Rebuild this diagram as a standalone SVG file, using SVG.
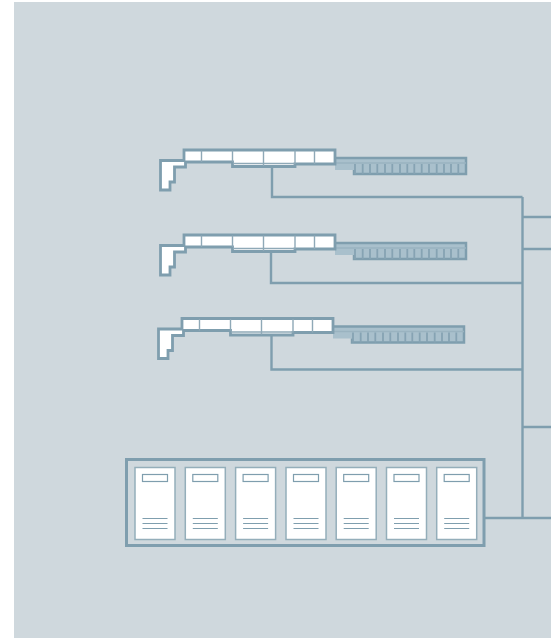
<svg xmlns="http://www.w3.org/2000/svg" width="551" height="638" viewBox="0 0 551 638">
<style>
.ln{fill:none;stroke:#7f9eae;stroke-width:2.400}
.w{fill:#fff;stroke:#7f9eae;stroke-width:2.800;stroke-linejoin:miter}
.t{fill:none;stroke:#8fa9b7;stroke-width:1.400}
.gt{fill:none;stroke:#7f9eae;stroke-width:1.500}
.sv{fill:#fff;stroke:#94aeba;stroke-width:1.500}
.sl{fill:none;stroke:#7f9eae;stroke-width:1.200}
</style>
<defs>
<g id="unit">
<path fill="#a9c0cc" d="M335 158H466V174H354V170H335Z"/>
<path class="gt" style="stroke-width:2.500" d="M335 158H466V174H354V170"/>
<path class="gt" style="stroke:#9ab3c0" d="M335 163H466"/>
<path class="gt" style="stroke:#86a3b3;stroke-width:1.800" d="M362.700 164V174M370 164V174M377.300 164V174M385 164V174M392.300 164V174M400 164V174M407.300 164V174M414.300 164V174M421.700 164V174M429 164V174M436.700 164V174M444 164V174M451 164V174M458.300 164V174M355 164V174"/>
<path class="w" d="M160.500 160.500H184V150H335V164H295V166.500H232.500V162H185.500V167H174.500V182H170V190H160.500Z"/>
<path class="t" d="M201.500 150.500V162M232.500 150.500V162M263.500 150.500V166M295 150.500V164M314.500 150.500V164M233 163.500H295"/>
</g>
<g id="server">
<rect class="sv" x="135" y="467.500" width="40" height="72"/>
<rect class="sl" x="142.500" y="474.500" width="25" height="7"/>
<path class="sl" d="M142.500 518.500H167.500M142.500 523.500H167.500M142.500 528.500H167.500"/>
</g>
</defs>
<rect id="background" x="14" y="2" width="537" height="636" fill="#cfd8dd"/>
<g id="connectors">
<path class="ln" d="M272 166V197H522.500M271 251V283H522.500M271.500 335V369.500H522.500M484 518H551M522.500 197V518M522.500 217H551M522.500 249H551M522.500 427H551"/>
</g>
<g id="unit-1"><use href="#unit"/></g>
<g id="unit-2"><use href="#unit" y="85"/></g>
<g id="unit-3"><use href="#unit" x="-2" y="168.500"/></g>
<g id="rack">
<rect x="126.500" y="459.500" width="357.500" height="86" fill="none" stroke="#7f9eae" stroke-width="3"/>
<g id="server-1"><use href="#server"/></g>
<g id="server-2"><use href="#server" x="50.300"/></g>
<g id="server-3"><use href="#server" x="100.600"/></g>
<g id="server-4"><use href="#server" x="151"/></g>
<g id="server-5"><use href="#server" x="201.200"/></g>
<g id="server-6"><use href="#server" x="251.500"/></g>
<g id="server-7"><use href="#server" x="301.700"/></g>
</g>
</svg>
